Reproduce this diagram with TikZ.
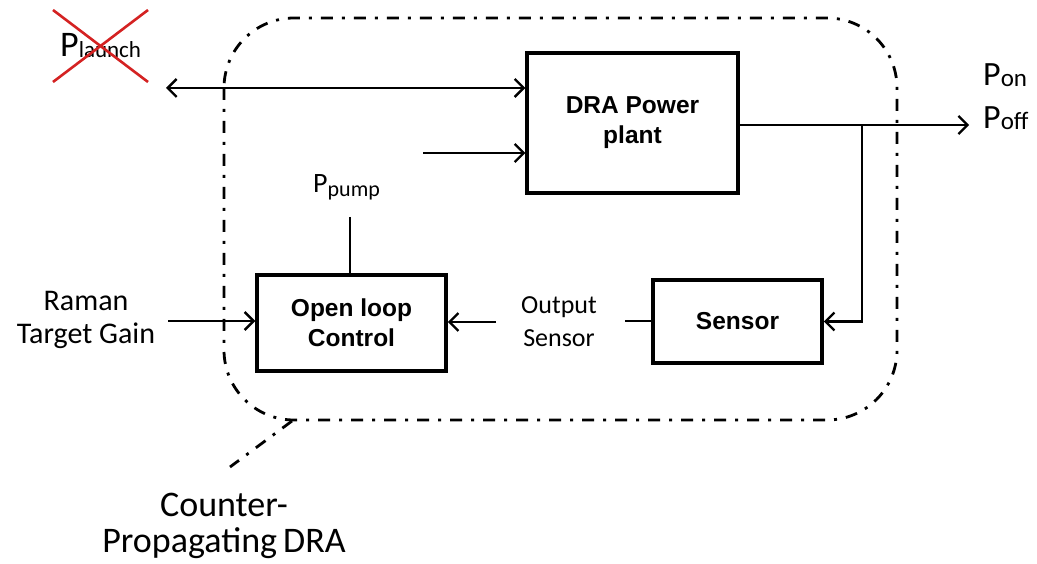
\documentclass[tikz,border=0pt]{standalone}
\usepackage{fontspec}
\setmainfont{Carlito}
\newfontfamily\arialfont{Liberation Sans}
\usetikzlibrary{arrows.meta}
\definecolor{xred}{RGB}{212,34,34}
\newcommand{\fs}[1]{\fontsize{#1}{#1}\selectfont}
\begin{document}
\begin{tikzpicture}[x=1pt,y=-1pt,
  block/.style={draw, line width=3.5pt, align=center, inner sep=0pt,
    font=\arialfont\bfseries\fontsize{24.5}{30}\selectfont},
  conn/.style={line width=2.3pt, -{Straight Barb[length=9pt,width=18pt,line width=2.3pt]}},
  biconn/.style={line width=2.3pt, {Straight Barb[length=9pt,width=18pt,line width=2.3pt]}-{Straight Barb[length=9pt,width=18pt,line width=2.3pt]}},
  plain/.style={line width=2.3pt},
  boundary/.style={line width=2.8pt, dash pattern=on 12pt off 9pt on 3pt off 9pt},
  lbl/.style={inner sep=0pt, align=center}
]
\useasboundingbox (0,0) rectangle (1037,564);

% boundary of the counter-propagating DRA
\draw[boundary, rounded corners=70pt] (224,18) rectangle (897,420);
\coordinate (leadA) at (292,421);
\coordinate (leadB) at (230,467);
\draw[boundary] (leadA) -- (leadB);

% blocks
\node[block, minimum width=211pt, minimum height=140pt] (dra) at (632.5,123) {DRA Power\\plant};
\node[block, minimum width=189pt, minimum height=96pt] (olc) at (351.5,323) {Open loop\\Control};
\node[block, minimum width=169pt, minimum height=83pt] (sen) at (737.5,321.5) {Sensor};

% labels
\node[lbl, anchor=base west] (plaunch) at (60,57) {\fs{36}P\raisebox{-1pt}{\fs{23}launch}};
\node[lbl, anchor=base west] (pon) at (983,86) {\fs{34}P\raisebox{-1pt}{\fs{25}on}};
\node[lbl, anchor=base west] (poff) at (983,129) {\fs{34}P\raisebox{-1pt}{\fs{25}off}};
\node[lbl, anchor=base west] (ppump) at (313,193) {\fs{28}P\raisebox{-4pt}{\fs{22}pump}};
\node[lbl, font=\fontsize{30}{33}\selectfont] (raman) at (86,320) {Raman\\Target Gain};
\node[lbl, font=\fontsize{26}{33}\selectfont] (outsen) at (559,322) {Output\\Sensor};
\node[lbl, font=\fontsize{36}{36}\selectfont] (cp) at (224,526) {Counter-\\Propagating\,DRA};

% crossed-out launch power
\draw[xred, line width=2.6pt] (53,10) -- (148,82);
\draw[xred, line width=2.6pt] (148,10) -- (53,82);

% connectors
\coordinate (lft) at (166,88);
\draw[biconn] (lft) -- (lft -| dra.west);
\coordinate (pin) at (423,153);
\draw[conn] (pin) -- (pin -| dra.west);
\coordinate (outY) at (740,125);
\coordinate (outEnd) at (969,125);
\coordinate (br) at (862,125);
\draw[conn] (outY -| dra.east) -- (outEnd);
\draw[conn] (br) -- (br |- sen.east) -- (sen.east);
\coordinate (pp) at (350,217);
\draw[plain] (pp) -- (pp |- olc.north);
\coordinate (rin) at (168,321);
\draw[conn] (rin) -- (rin -| olc.west);
\coordinate (osin) at (496,322);
\draw[conn] (osin) -- (osin -| olc.east);
\coordinate (sout) at (625,321);
\draw[plain] (sout) -- (sout -| sen.west);
\end{tikzpicture}
\end{document}
